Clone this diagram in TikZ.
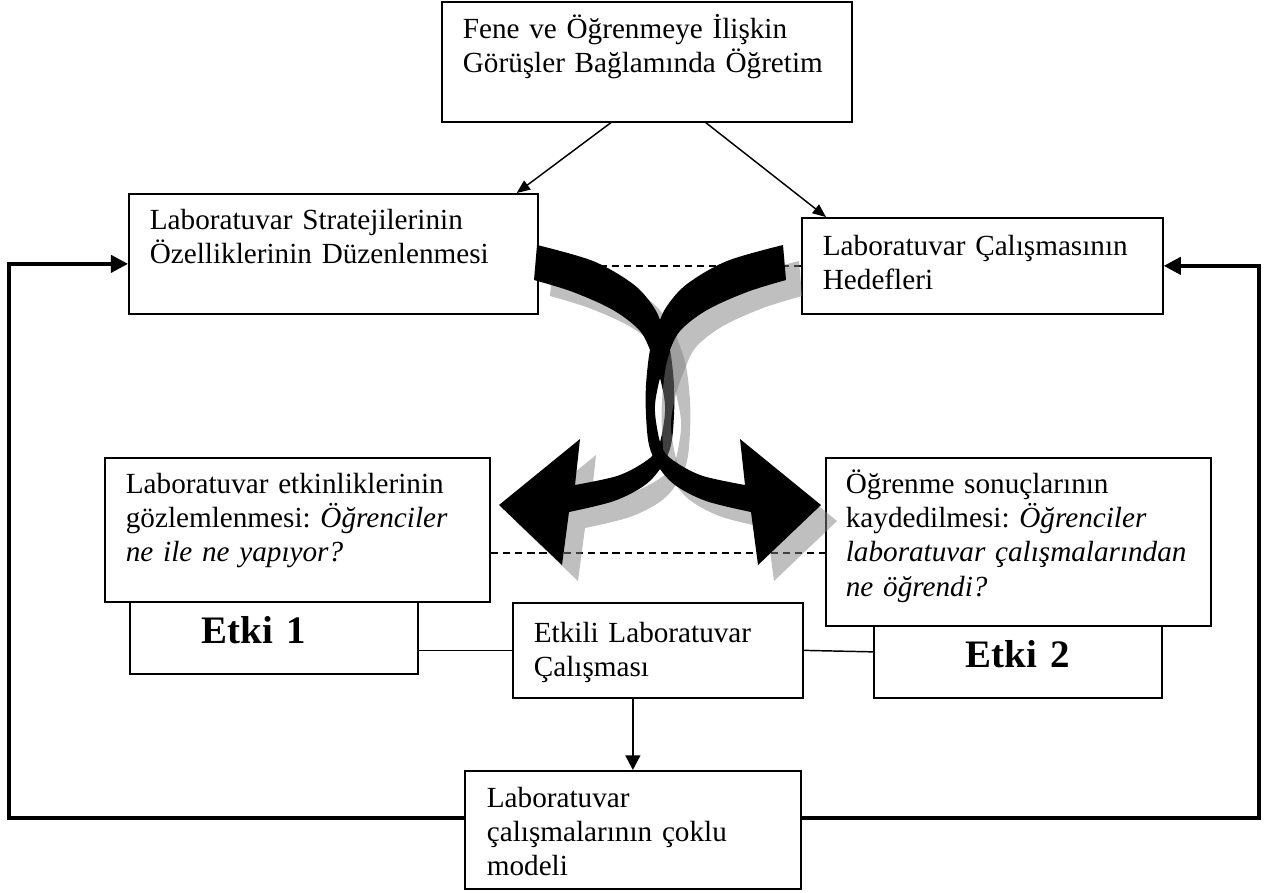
\documentclass[tikz,border=0pt]{standalone}
\usepackage{fontspec}
\setmainfont{Liberation Serif}
\usetikzlibrary{arrows.meta,calc}
\frenchspacing

\newcommand{\pxu}{0.411pt}
% one of the two bent arrows, drawn in pixel units
\newcommand{\bentarrow}{%
  plot[smooth, tension=0.55] coordinates {(537,245) (593,261) (633,284) (653,306) (662,325) (670,350) (674,385) (674,415) (671,445) (662,466) (645,485) (614,501) (569,512)}
  -- (562,565) -- (499,505) -- (580,439) -- (575,485)
  -- plot[smooth, tension=0.55] coordinates {(575,485) (617,476) (643,463) (657,450) (663,428) (665,405) (660,378) (652,355) (640,331) (613,310) (573,292) (534,280)}
  -- cycle}

\begin{document}
\begin{tikzpicture}[x=0.411pt, y=-0.411pt,
    box/.style={draw, line width=0.7pt, anchor=north west, inner ysep=0pt,
      inner xsep=21*\pxu, align=left, font=\fontsize{12pt}{14pt}\selectfont},
    etki/.style={box, font=\bfseries\fontsize{16pt}{18pt}\selectfont},
    thinarrow/.style={-{Triangle[length=5.5pt,width=4.5pt]}, line width=0.6pt},
    looparrow/.style={-{Triangle[length=7pt,width=7pt]}, line width=1.6pt},
    link/.style={line width=0.6pt},
    guide/.style={line width=0.6pt, dash pattern=on 3pt off 2pt},
    shadowfill/.style={fill=gray, fill opacity=0.5},
    arrowfill/.style={fill=black}]
  \useasboundingbox (0,0) rectangle (1270,892);

  % boxes
  \node[box, text width=368*\pxu, text height=37*\pxu, text depth=83*\pxu] (topbox) at (441,1)
    {Fene ve Öğrenmeye İlişkin\\Görüşler Bağlamında Öğretim};
  \node[box, text width=367*\pxu, text height=36*\pxu, text depth=84*\pxu] (stratbox) at (128,193)
    {Laboratuvar Stratejilerinin\\Özelliklerinin Düzenlenmesi};
  \node[box, text width=319*\pxu, text height=38*\pxu, text depth=58*\pxu] (goalbox) at (801,217)
    {Laboratuvar Çalışmasının\\Hedefleri};
  \node[box, text width=343*\pxu, text height=36*\pxu, text depth=108*\pxu] (obsbox) at (104,457)
    {Laboratuvar etkinliklerinin\\gözlemlenmesi: \textit{Öğrenciler}\\\textit{ne ile ne yapıyor?}};
  \node[box, inner xsep=20*\pxu, text width=345*\pxu, text height=36*\pxu, text depth=132*\pxu] (learnbox) at (825,457)
    {Öğrenme sonuçlarının\\kaydedilmesi: \textit{Öğrenciler}\\\textit{laboratuvar çalışmalarından}\\\textit{ne öğrendi?}};
  \node[etki, inner xsep=72*\pxu, text width=144*\pxu, text height=42*\pxu, text depth=30*\pxu] (etkiA) at (129,601) {Etki 1};
  \node[etki, inner xsep=0pt, align=center, text width=288*\pxu, text height=42*\pxu, text depth=30*\pxu] (etkiB) at (873,625) {Etki 2};
  \node[box, text width=248*\pxu, text height=40*\pxu, text depth=55*\pxu] (etkili) at (512,602)
    {Etkili Laboratuvar\\Çalışması};
  \node[box, inner xsep=22*\pxu, text width=292*\pxu, text height=37*\pxu, text depth=81*\pxu] (modelbox) at (464,770)
    {Laboratuvar\\çalışmalarının çoklu\\modeli};

  % connectors
  \draw[thinarrow] ($(topbox.south)+(-36,0)$) -- ($(stratbox.north east)+(-22,0)$);
  \draw[thinarrow] ($(topbox.south)+(59,0)$) -- ($(goalbox.north west)+(25,0)$);
  \draw[looparrow] ($(modelbox.west)+(0,-12)$) -| ($(stratbox.west)+(-119,10)$) -- ($(stratbox.west)+(0,10)$);
  \draw[looparrow] ($(modelbox.east)+(0,-12)$) -| ($(goalbox.east)+(95,0)$) -- (goalbox.east);
  \draw[-{Triangle[length=6pt,width=6pt]}, line width=1pt] (modelbox.north |- etkili.south) -- (modelbox.north);
  \draw[link] (etkili.west -| etkiA.east) -- (etkili.west);
  \draw[link] (etkili.east) -- ($(etkiB.west)+(0,-10)$);
  \draw[guide] (goalbox.west -| stratbox.east) -- (goalbox.west);
  \draw[guide] ($(obsbox.east)+(0,23)$) -- ($(learnbox.west)+(0,11)$);

  % the two bent arrows with their shadows
  \begin{scope}[shift={(16,16)}]
    \fill[shadowfill] \bentarrow;
  \end{scope}
  \fill[arrowfill] \bentarrow;
  \begin{scope}[shift={(1336,16)}, xscale=-1]
    \fill[shadowfill] \bentarrow;
  \end{scope}
  \begin{scope}[shift={(1320,0)}, xscale=-1]
    \fill[arrowfill] \bentarrow;
  \end{scope}
\end{tikzpicture}
\end{document}
